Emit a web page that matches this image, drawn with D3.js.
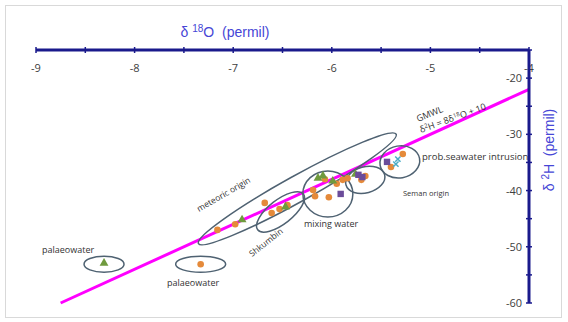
<!DOCTYPE html>
<html>
<head>
<meta charset="utf-8">
<script src="https://cdn.jsdelivr.net/npm/d3@7.9.0/dist/d3.min.js"></script>
<style>
  body { margin: 0; background: #fff; }
  svg { font-family: "Open Sans", "DejaVu Sans", sans-serif; }
</style>
</head>
<body>
<svg id="chart" width="568" height="322"></svg>
<script>
// axis ranges and ticks
const xTicks = [-9, -8, -7, -6, -5, -4];
const yTicks = [-60, -50, -40, -30, -20];

// samples (δ18O, δ2H)
const orangeX = [-7.33, -7.16, -6.98, -6.68, -6.61, -6.53, -6.45, -6.19, -6.17, -6.03, -6.07, -5.95, -5.89, -5.84, -5.70, -5.66, -5.40, -5.28];
const orangeY = [-53.1, -47.0, -46.0, -42.2, -44.0, -43.3, -42.6, -39.9, -41.0, -41.2, -38.0, -38.8, -38.1, -37.8, -38.1, -37.4, -35.8, -33.5];
const greenX  = [-8.31, -6.91, -6.47, -6.14, -6.09, -5.99, -5.76];
const greenY  = [-52.9, -45.2, -42.9, -37.8, -37.4, -38.3, -37.1];
const purpleX = [-5.91, -5.73, -5.69, -5.44];
const purpleY = [-40.6, -37.2, -37.6, -34.9];
const cyanX   = [-5.35, -5.33];
const cyanY   = [-35.3, -34.4];

// GMWL: δ2H = 8 δ18O + 10
const gmwlX = [-8.75, -4];

// grouping ellipses (centre in data units, radii in px, rotation deg)
const zones = [
  { x: -6.35, y: -39.7, rx: 113, ry: 13, a: -29 },
  { x: -6.52, y: -43.8, rx: 29, ry: 12, a: -38 },
  { x: -6.04, y: -40.6, rx: 25, ry: 23, a: 0 },
  { x: -5.66, y: -38.1, rx: 20, ry: 13, a: -15 },
  { x: -5.31, y: -34.9, rx: 20, ry: 16, a: -10 },
  { x: -8.31, y: -53.1, rx: 20, ry: 8, a: 0 },
  { x: -7.33, y: -53.1, rx: 25, ry: 8, a: 0 }
];

const svg = d3.select('#chart');
const x = d3.scaleLinear().domain([-9, -4]).range([36, 529]);
const y = d3.scaleLinear().domain([-60, -15]).range([303, 50]);

// outer frame
svg.append('rect').attr('x', 5.5).attr('y', 5.5).attr('width', 556).attr('height', 312)
  .attr('fill', 'none').attr('stroke', '#d9d9d9');

// GMWL line
svg.append('line')
  .attr('x1', x(gmwlX[0])).attr('y1', y(8 * gmwlX[0] + 10))
  .attr('x2', x(gmwlX[1])).attr('y2', y(8 * gmwlX[1] + 10))
  .attr('stroke', '#ff00ff').attr('stroke-width', 3);

// ellipses
svg.append('g').selectAll('ellipse').data(zones).join('ellipse')
  .attr('cx', 0).attr('cy', 0)
  .attr('rx', d => d.rx).attr('ry', d => d.ry)
  .attr('transform', d => `translate(${x(d.x)},${y(d.y)}) rotate(${d.a})`)
  .attr('fill', 'none').attr('stroke', '#4f6272').attr('stroke-width', 1.5);

// markers
const pts = (xs, ys) => xs.map((v, i) => [v, ys[i]]);
svg.append('g').selectAll('circle').data(pts(orangeX, orangeY)).join('circle')
  .attr('cx', d => x(d[0])).attr('cy', d => y(d[1])).attr('r', 3.3)
  .attr('fill', '#e58a3a');
svg.append('g').selectAll('path').data(pts(greenX, greenY)).join('path')
  .attr('d', d3.symbol(d3.symbolTriangle, 34))
  .attr('transform', d => `translate(${x(d[0])},${y(d[1])})`)
  .attr('fill', '#6f9a3e');
svg.append('g').selectAll('rect').data(pts(purpleX, purpleY)).join('rect')
  .attr('x', d => x(d[0]) - 3.2).attr('y', d => y(d[1]) - 3.2)
  .attr('width', 6.4).attr('height', 6.4).attr('fill', '#6b4c9a');
svg.append('g').selectAll('path').data(pts(cyanX, cyanY)).join('path')
  .attr('d', d3.symbol(d3.symbolX, 20))
  .attr('transform', d => `translate(${x(d[0])},${y(d[1])})`)
  .attr('stroke', '#4bacc6').attr('stroke-width', 1.5).attr('fill', 'none');

// top axis
const axisCol = '#1a1a8c';
const topAxis = svg.append('g');
topAxis.append('line').attr('x1', x(-9)).attr('x2', x(-4)).attr('y1', y(-15)).attr('y2', y(-15))
  .attr('stroke', axisCol).attr('stroke-width', 3);
topAxis.selectAll('line.tk').data(d3.range(-9, -3.9, 0.5)).join('line').attr('class', 'tk')
  .attr('x1', d => x(d)).attr('x2', d => x(d))
  .attr('y1', y(-15) - 3).attr('y2', y(-15) + 3)
  .attr('stroke', axisCol).attr('stroke-width', 1.5);
topAxis.selectAll('text').data(xTicks).join('text')
  .attr('x', d => x(d)).attr('y', 72).attr('text-anchor', 'middle')
  .attr('font-size', 11).attr('fill', '#404040').text(d => d);
svg.append('text').attr('x', 225).attr('y', 37).attr('text-anchor', 'middle')
  .attr('font-size', 14).attr('fill', '#4646d6').attr('font-family', '"Liberation Sans", Arial, sans-serif')
  .html('δ <tspan dy="-5" font-size="10">18</tspan><tspan dy="5">O\u00a0\u00a0(permil)</tspan>');

// right axis
const rightAxis = svg.append('g');
rightAxis.append('line').attr('x1', x(-4)).attr('x2', x(-4)).attr('y1', y(-15)).attr('y2', y(-60))
  .attr('stroke', axisCol).attr('stroke-width', 3);
rightAxis.selectAll('line.tk').data(d3.range(-60, -14, 5)).join('line').attr('class', 'tk')
  .attr('x1', x(-4) - 3).attr('x2', x(-4) + 3)
  .attr('y1', d => y(d)).attr('y2', d => y(d))
  .attr('stroke', axisCol).attr('stroke-width', 1.5);
rightAxis.selectAll('text').data(yTicks).join('text')
  .attr('x', x(-4) - 7).attr('y', d => y(d) + 4).attr('text-anchor', 'end')
  .attr('font-size', 11).attr('fill', '#404040').text(d => d);
svg.append('text').attr('transform', 'translate(554,150) rotate(-90)').attr('text-anchor', 'middle')
  .attr('font-size', 14).attr('fill', '#4646d6').attr('font-family', '"Liberation Sans", Arial, sans-serif')
  .html('δ <tspan dy="-5" font-size="10">2</tspan><tspan dy="5">H\u00a0\u00a0(permil)</tspan>');

// annotations
const note = (tx, ty, s, size, rot) => svg.append('text')
  .attr('transform', `translate(${tx},${ty}) rotate(${rot || 0})`)
  .attr('font-size', size).attr('fill', '#333').text(s);
note(42, 253, 'palaeowater', 9);
note(167, 286, 'palaeowater', 9);
note(304, 227, 'mixing water', 9);
note(403, 196, 'Seman origin', 7.5);
note(422, 160, 'prob.seawater intrusion', 9.5);
note(199, 212, 'meteoric origin', 8.5, -30);
note(252, 257, 'Shkumbin', 8.5, -38);
note(418, 122, 'GMWL', 9, -22);
svg.append('text').attr('transform', 'translate(421,133) rotate(-20)')
  .attr('font-size', 9).attr('fill', '#333')
  .html('δ<tspan dy="-3" font-size="6">2</tspan><tspan dy="3">H = 8δ</tspan><tspan dy="-3" font-size="6">18</tspan><tspan dy="3">O + 10</tspan>');
</script>
</body>
</html>
